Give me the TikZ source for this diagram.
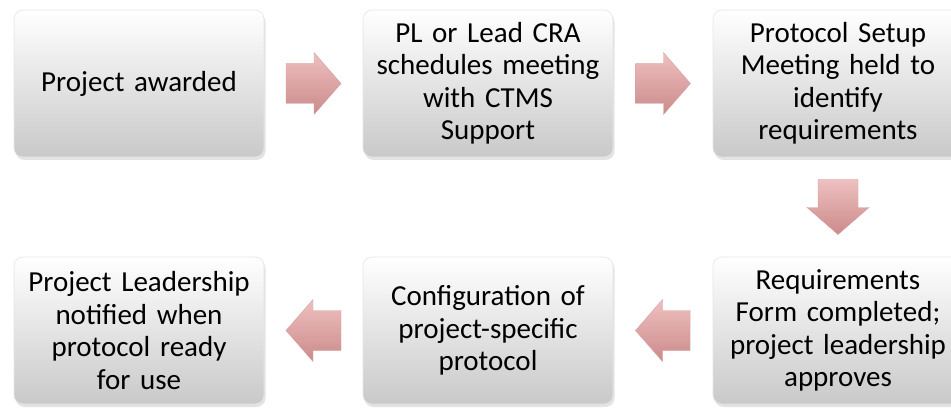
\documentclass[tikz,border=0pt]{standalone}
\usepackage{fontspec}
\setmainfont{Carlito}[WordSpace=0.9]
\usetikzlibrary{shadows,calc}
\definecolor{boxbot}{HTML}{C9C9C9}
\definecolor{arrtop}{HTML}{EEC0C0}
\definecolor{arrbot}{HTML}{CC8A8A}
\begin{document}
\begin{tikzpicture}[x=1pt,y=-1pt,
  stepbox/.style={rectangle, rounded corners=9pt, minimum width=250pt, minimum height=147pt,
    inner sep=3pt, text width=244pt, align=center, top color=white, bottom color=boxbot,
    draw=white!90!black, line width=0.6pt,
    drop shadow={shadow xshift=1.5pt, shadow yshift=-3pt, opacity=0.22},
    font=\fontsize{29}{32.5}\selectfont},
  blockarrow/.pic={
    \shade[top color=arrtop, bottom color=arrbot, draw=arrbot!80!white, line width=0.4pt]
      (-27.5,-20) -- (0.5,-20) -- (0.5,-31) -- (27.5,0) -- (0.5,31) -- (0.5,20)
      -- (-27.5,20) -- cycle;
  }]
\useasboundingbox (0,0) rectangle (951,409);
\node[stepbox] (b1) at (139,83.5) {Project awarded};
\node[stepbox] (b2) at (488,83.5) {PL or Lead CRA\\schedules meeting\\with CTMS\\Support};
\node[stepbox] (b3) at (838,83.5) {Protocol Setup\\Meeting held to\\identify\\requirements};
\node[stepbox] (b4) at (838,330.5) {Requirements\\Form completed;\\project leadership\\approves};
\node[stepbox] (b5) at (488,330.5) {Configuration of\\project-specific\\protocol};
\node[stepbox] (b6) at (139,330.5) {Project Leadership\\notified when\\protocol ready\\for use};
\coordinate (a1) at ($(b1.east)!0.5!(b2.west)$);
\coordinate (a2) at ($(b2.east)!0.5!(b3.west)$);
\coordinate (a3) at ($(b3.south)!0.5!(b4.north)$);
\coordinate (a4) at ($(b4.west)!0.5!(b5.east)$);
\coordinate (a5) at ($(b5.west)!0.5!(b6.east)$);
\pic at (a1) {blockarrow};
\pic at (a2) {blockarrow};
\pic[rotate=-90] at (a3) {blockarrow};
\pic[xscale=-1] at (a4) {blockarrow};
\pic[xscale=-1] at (a5) {blockarrow};
\end{tikzpicture}
\end{document}
